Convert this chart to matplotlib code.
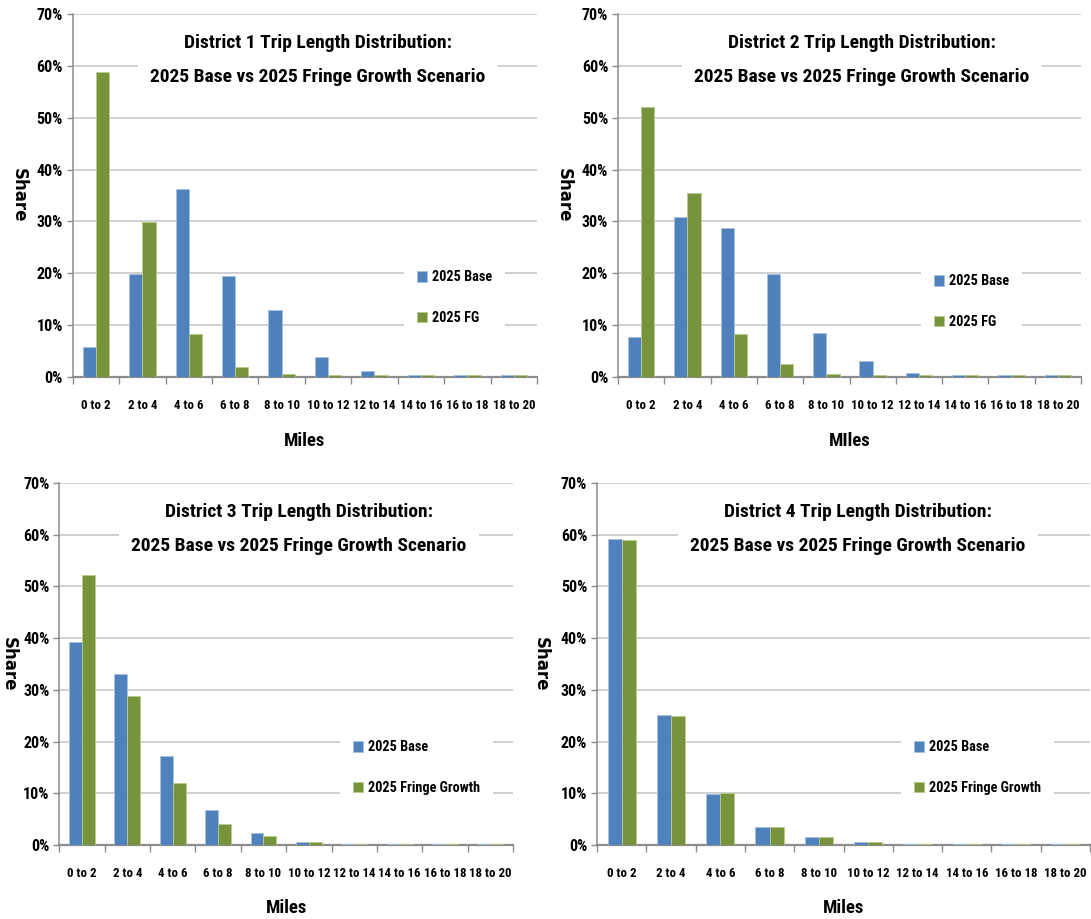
import matplotlib
matplotlib.use("Agg")
import matplotlib.pyplot as plt
from matplotlib import font_manager
from matplotlib.ticker import PercentFormatter

# ---------------- data ----------------
categories = ["0 to 2", "2 to 4", "4 to 6", "6 to 8", "8 to 10",
              "10 to 12", "12 to 14", "14 to 16", "16 to 18", "18 to 20"]
y_ticks = [0, 10, 20, 30, 40, 50, 60, 70]

d1_base = [5.7, 19.9, 36.2, 19.4, 13.0, 3.9, 1.1, 0.4, 0.3, 0.3]
d1_fg = [58.9, 29.9, 8.2, 1.9, 0.6, 0.3, 0.3, 0.3, 0.3, 0.3]
d2_base = [7.7, 30.9, 28.8, 19.9, 8.5, 3.0, 0.8, 0.3, 0.3, 0.3]
d2_fg = [52.0, 35.5, 8.2, 2.6, 0.6, 0.3, 0.3, 0.3, 0.3, 0.3]
d3_base = [39.3, 33.0, 17.2, 6.7, 2.4, 0.6, 0.2, 0.2, 0.2, 0.2]
d3_fg = [52.3, 28.9, 11.9, 4.0, 1.7, 0.6, 0.2, 0.2, 0.2, 0.2]
d4_base = [59.2, 25.1, 9.9, 3.5, 1.5, 0.6, 0.2, 0.2, 0.2, 0.2]
d4_fg = [58.9, 24.9, 10.1, 3.5, 1.5, 0.6, 0.2, 0.2, 0.2, 0.2]

titles = ["District 1 Trip Length Distribution:\n2025 Base vs 2025 Fringe Growth Scenario",
          "District 2 Trip Length Distribution:\n2025 Base vs 2025 Fringe Growth Scenario",
          "District 3 Trip Length Distribution:\n2025 Base vs 2025 Fringe Growth Scenario",
          "District 4 Trip Length Distribution:\n2025 Base vs 2025 Fringe Growth Scenario"]
base_label = "2025 Base"
fg_labels = ["2025 FG", "2025 FG", "2025 Fringe Growth", "2025 Fringe Growth"]
x_labels = ["Miles", "MIles", "Miles", "Miles"]
y_label = "Share"

# ---------------- fonts ----------------
fonts = font_manager.fontManager.ttflist
names = {f.name for f in fonts}
narrow_name = None
for cand in ["Liberation Sans Narrow", "Roboto Condensed", "Open Sans Condensed",
             "Noto Sans Condensed", "Arial Narrow"]:
    if cand in names:
        narrow_name = cand
        break
stretch = "normal"
if narrow_name is None:
    for fam in ["Roboto", "Noto Sans", "Open Sans"]:
        if any(f.name == fam and str(f.stretch) in ("condensed", "semi-condensed", "extra-condensed", "75", "87.5")
               and f.weight in ("bold", 700) for f in fonts):
            narrow_name = fam
            stretch = "condensed"
            break
if narrow_name is not None:
    FAM = [narrow_name, "DejaVu Sans"]
    scale = 1.0
else:
    FAM = ["Liberation Sans", "DejaVu Sans"]
    scale = 0.84
plt.rcParams["font.family"] = FAM
plt.rcParams["font.stretch"] = stretch

W, H = 1091, 919
fig = plt.figure(figsize=(W / 100, H / 100), dpi=100)


def fx(px):
    return px / W


def fy(py):
    return 1 - py / H


BLUE = "#4F81BD"
GREEN = "#77933C"
GRID = "#C4C4C4"
AXC = "#8C8C8C"

panels = [
    dict(l=72.7, r=537, t=14, b=377, base=d1_base, fg=d1_fg,
         title_xy=(318, 60), leg_xy=(404, 297.5), xl_y=441, yl_x=19),
    dict(l=618, r=1081, t=14, b=377, base=d2_base, fg=d2_fg,
         title_xy=(862, 60), leg_xy=(921, 301.5), xl_y=441, yl_x=564),
    dict(l=59.3, r=513, t=483, b=845, base=d3_base, fg=d3_fg,
         title_xy=(299, 529), leg_xy=(340, 767.5), xl_y=908, yl_x=9),
    dict(l=597, r=1090, t=483, b=845, base=d4_base, fg=d4_fg,
         title_xy=(858, 529), leg_xy=(901, 767.5), xl_y=908, yl_x=541),
]

title_fs = 14 * scale
title_ls = 1.2 * 35 / (title_fs * 100 / 72)

bw = 1 / 3.5
for i, p in enumerate(panels):
    ax = fig.add_axes([fx(p["l"]), fy(p["b"]), fx(p["r"] - p["l"]), (p["b"] - p["t"]) / H])
    xs = list(range(len(categories)))
    ax.bar([x - bw / 2 for x in xs], p["base"], width=bw, color=BLUE,
           edgecolor="#A9C1E0", linewidth=0.6, label=base_label, zorder=3)
    ax.bar([x + bw / 2 for x in xs], p["fg"], width=bw, color=GREEN,
           edgecolor="#B7CC8A", linewidth=0.6, label=fg_labels[i], zorder=3)
    ax.set_xlim(-0.5, len(categories) - 0.5)
    ax.set_ylim(0, 70)
    ax.set_yticks(y_ticks)
    ax.yaxis.set_major_formatter(PercentFormatter(decimals=0))
    ax.set_xticks([x - 0.5 for x in xs] + [len(categories) - 0.5])
    ax.set_xticklabels([])
    ax.set_xticks(xs, minor=True)
    ax.set_xticklabels(categories, minor=True)
    ax.tick_params(axis="x", which="minor", length=0, pad=16,
                   labelsize=9.3 * scale)
    ax.tick_params(axis="x", which="major", length=5, width=1, color=AXC, direction="out")
    ax.tick_params(axis="y", length=4, width=1, color=AXC, direction="out",
                   labelsize=11.5 * scale, pad=3)
    for lab in ax.get_xticklabels(minor=True) + ax.get_yticklabels():
        lab.set_fontweight("bold")
    ax.grid(axis="y", color=GRID, linewidth=1.1, zorder=0)
    ax.set_axisbelow(True)
    for s in ["top", "right"]:
        ax.spines[s].set_visible(False)
    ax.spines["left"].set_color(AXC)
    ax.spines["bottom"].set_color(AXC)
    ax.spines["left"].set_linewidth(1.1)
    ax.spines["bottom"].set_linewidth(1.6)

    fig.text(fx(p["title_xy"][0]), fy(p["title_xy"][1]), titles[i],
             ha="center", va="center", fontsize=title_fs, fontweight="bold",
             linespacing=title_ls, zorder=5,
             bbox=dict(facecolor="white", edgecolor="none", pad=9))

    leg = ax.legend(loc="center left", bbox_to_anchor=(fx(p["leg_xy"][0]), fy(p["leg_xy"][1])),
                    bbox_transform=fig.transFigure, frameon=True, fancybox=False,
                    framealpha=1, edgecolor="none", facecolor="white",
                    prop=dict(size=10.3 * scale, weight="bold"),
                    handlelength=0.7, handleheight=0.75, handletextpad=0.35,
                    labelspacing=1.85, borderpad=0.9, borderaxespad=0)
    leg.set_zorder(6)

    fig.text(fx((p["l"] + p["r"]) / 2), fy(p["xl_y"]), x_labels[i], ha="center", va="center",
             fontsize=13.5 * scale, fontweight="bold")
    fig.text(fx(p["yl_x"]), fy((p["t"] + p["b"]) / 2), y_label, ha="center", va="center",
             rotation=270, fontsize=12, fontweight="bold", family="DejaVu Sans",
             stretch="normal")

fig.savefig("out.png", dpi=100)
